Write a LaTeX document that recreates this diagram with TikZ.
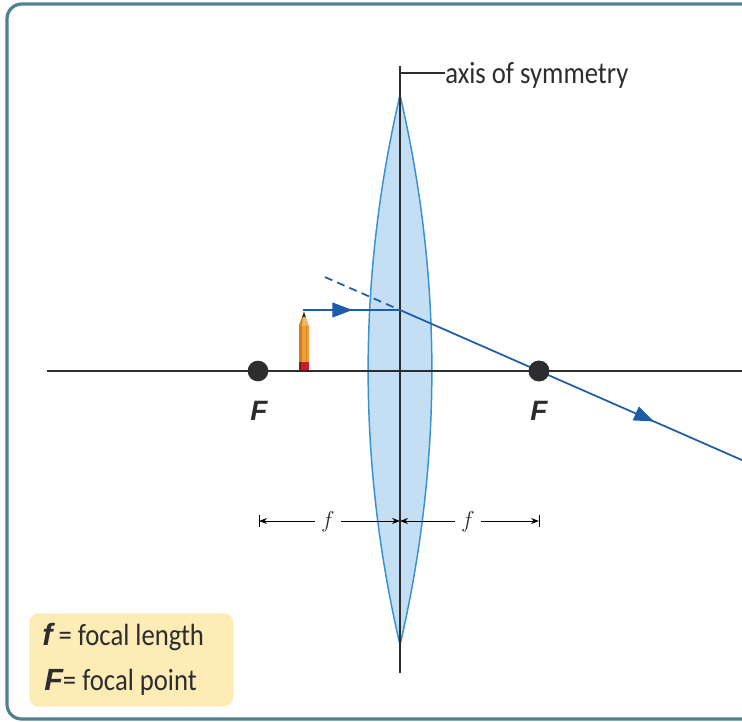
\documentclass[tikz,border=0pt]{standalone}
\usepackage{fontspec}
\setmainfont[FakeStretch=0.87]{Carlito}
\newfontfamily\heavyfont{Liberation Sans}
\usetikzlibrary{arrows.meta,decorations.markings,calc}

\definecolor{framecol}{RGB}{78,128,146}
\definecolor{axisgray}{RGB}{45,45,48}
\definecolor{lensfill}{RGB}{196,222,243}
\definecolor{lensedge}{RGB}{55,145,212}
\definecolor{raycol}{RGB}{30,92,170}
\definecolor{legendfill}{RGB}{253,236,182}
\definecolor{pencilorange}{RGB}{240,160,50}
\definecolor{pencildark}{RGB}{214,122,30}
\definecolor{pencilred}{RGB}{200,30,40}
\definecolor{woodcol}{RGB}{236,184,110}

\tikzset{
  axisline/.style={draw=axisgray, line width=1.5pt},
  symline/.style={draw=axisgray, line width=1.1pt},
  lensbody/.style={fill=lensfill, draw=lensedge, line width=1.1pt},
  ray/.style={draw=raycol, line width=1.3pt},
  backray/.style={draw=raycol, line width=1.3pt, dash pattern=on 6pt off 4pt},
  fdot/.style={circle, fill=axisgray, minimum size=15.5pt, inner sep=0pt},
  flabel/.style={font=\heavyfont\bfseries\itshape\fontsize{21}{21}\selectfont, text=axisgray},
  dimline/.style={draw=black, line width=0.7pt},
  dimlabel/.style={font=\fontsize{19}{19}\selectfont, text=axisgray, inner sep=1pt},
  raymark/.style={postaction=decorate, decoration={markings,
      mark=at position #1 with {\arrow[raycol]{Triangle[length=15pt,width=11pt]}}}},
  labeltext/.style={font=\fontsize{23}{25}\selectfont, text=axisgray, inner sep=0pt},
}

\begin{document}
\begin{tikzpicture}[x=0.75pt, y=-0.75pt]
  \useasboundingbox (0,0) rectangle (742,721);

  % outer panel frame
  \draw[framecol, line width=2.4pt, rounded corners=11pt]
    (760,4) -- (7,4) -- (7,719) -- (760,719);

  % lens
  \coordinate (ltop) at (400,95);
  \coordinate (lbot) at (400,645);
  \path[lensbody] (ltop) .. controls (357.5,278) and (357.5,462) .. (lbot)
                         .. controls (442.5,462) and (442.5,278) .. (ltop) -- cycle;

  % principal axis
  \coordinate (axl) at (47,371);
  \coordinate (axr) at (742,371);
  \draw[axisline] (axl) -- (axr);

  % axis of symmetry with its label
  \coordinate (symtop) at (400,66);
  \coordinate (symbot) at (400,673);
  \draw[symline] (symtop) -- (symbot);
  \node[labeltext, anchor=base west] (symlabel) at (445,83) {axis of symmetry};
  \coordinate (symtick) at (400,73);
  \draw[symline] (symtick) -- (symtick -| symlabel.west);

  % focal points
  \node[fdot] (F1) at (258,371) {};
  \node[fdot] (F2) at (539,371) {};

  % rays
  \coordinate (tip) at (303,310);
  \coordinate (hit) at (400,310);
  \coordinate (rayend) at ($(hit)!2.47!(F2)$);
  \coordinate (back) at ($(hit)!-0.54!(F2)$);
  \draw[backray] (back) -- (hit);
  \draw[ray, raymark=0.51] (tip) -- (hit);
  \draw[ray, raymark=0.74] (hit) -- (rayend);
  \node[fdot] at (F2) {};

  % pencil (object)
  \fill[pencilorange] (299,325) rectangle (309,363);
  \fill[pencildark] (299,325) rectangle (301.5,363);
  \fill[pencildark!80!pencilorange] (305.5,325) rectangle (307,363);
  \fill[woodcol] (299,325.5) -- (304,312) -- (309,325.5) -- cycle;
  \fill[pencildark] (299,325.5) -- (304,312) -- (301.5,325.5) -- cycle;
  \fill[axisgray] (302.2,317) -- (304,311.5) -- (305.8,317) -- cycle;
  \fill[pencilred] (299,362) rectangle (309,370);
  \fill[pencilred!70!black] (299,362) rectangle (301,370);

  % focal point labels
  \node[flabel] (F1lab) at (259,411) {F};
  \node[flabel] (F2lab) at (539,411) {F};

  % focal length dimensions
  \coordinate (dL) at (259,521);
  \coordinate (dM) at (400,521);
  \coordinate (dR) at (539,521);
  \node[dimlabel] (fleft) at (328,522) {$f$};
  \node[dimlabel] (fright) at (468,522) {$f$};
  \draw[dimline] ($(dL)+(0,-6)$) -- ($(dL)+(0,6)$);
  \draw[dimline] ($(dR)+(0,-6)$) -- ($(dR)+(0,6)$);
  \draw[dimline, -{Stealth[length=6pt,width=4.5pt]}] (dL -| fleft.west) ++(-5,0) -- (dL);
  \draw[dimline, -{Stealth[length=6pt,width=4.5pt]}] (dL -| fleft.east) ++(5,0) -- (dM);
  \draw[dimline, -{Stealth[length=6pt,width=4.5pt]}] (dL -| fright.west) ++(-5,0) -- (dM);
  \draw[dimline, -{Stealth[length=6pt,width=4.5pt]}] (dL -| fright.east) ++(5,0) -- (dR);

  % legend
  \node[fill=legendfill, rounded corners=7pt, minimum width=153pt, minimum height=70pt,
        anchor=north west, inner sep=0pt] (legend) at (29,613) {};
  \node[labeltext, anchor=base west] (leg1) at (42,645)
    {{\heavyfont\bfseries\itshape f} = focal length};
  \node[labeltext, anchor=base west] (leg2) at (44,690)
    {{\heavyfont\bfseries\itshape F}= focal point};
\end{tikzpicture}
\end{document}
